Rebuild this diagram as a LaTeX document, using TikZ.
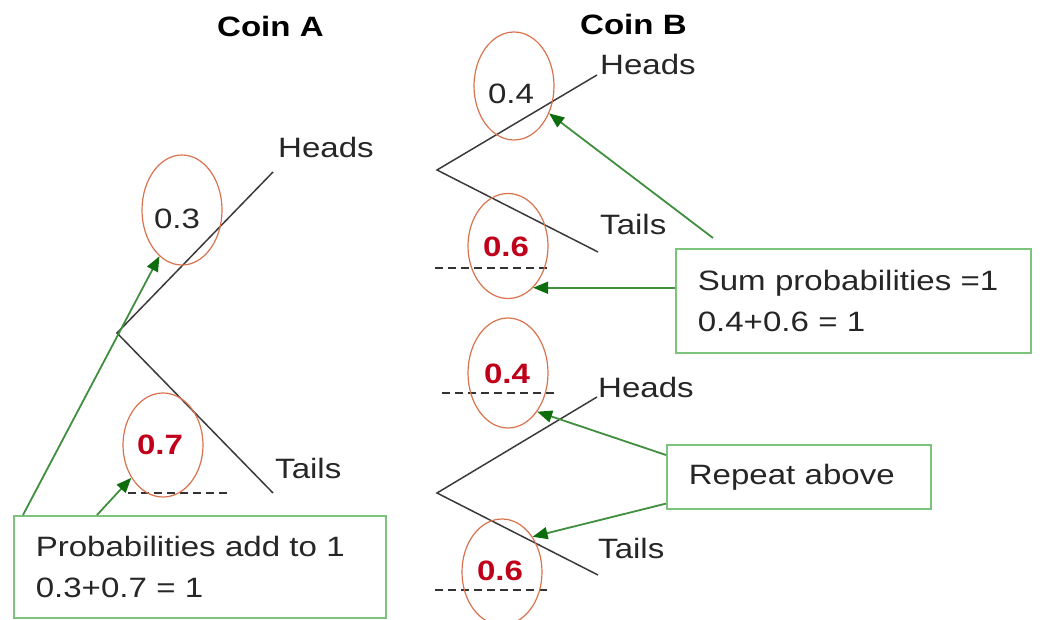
\documentclass[tikz,border=0pt]{standalone}
\usepackage{fontspec}
\setmainfont{Liberation Sans}[FakeStretch=1.18]
\usetikzlibrary{arrows.meta,shapes.geometric}

\definecolor{ringred}{HTML}{D9734F}
\definecolor{numred}{HTML}{C0001A}
\definecolor{boxgreen}{HTML}{7CC47C}
\definecolor{arrowgreen}{HTML}{3F8F3F}
\definecolor{tipgreen}{HTML}{0E6E0E}
\definecolor{branch}{HTML}{3A3A3A}

\begin{document}
\begin{tikzpicture}[x=1pt,y=-1pt,
  txt/.style={font=\fontsize{28}{41}\selectfont, inner sep=0pt, text=black!85},
  title/.style={txt, font=\fontsize{28}{41}\selectfont\bfseries, text=black},
  num/.style={txt},
  rednum/.style={txt, font=\fontsize{28}{41}\selectfont\bfseries, text=numred},
  ring/.style={draw=ringred, line width=1.2pt, ellipse, inner sep=0pt,
    minimum width=80pt, minimum height=#1},
  ring/.default=108pt,
  note/.style={draw=boxgreen, line width=1.6pt, fill=white, anchor=north west,
    inner xsep=22pt, inner ysep=0pt, align=left,
    font=\fontsize{28}{41}\selectfont, text=black!85},
  limb/.style={draw=branch, line width=1.5pt},
  guide/.style={draw=black!80, line width=1.4pt, dash pattern=on 8pt off 5pt},
  pointer/.style={draw=arrowgreen, line width=1.8pt,
    -{Triangle[length=15pt,width=12pt,fill=tipgreen,color=tipgreen]}}]

\useasboundingbox (0,0) rectangle (1042,620);

% titles
\node[title, anchor=base west] (tA) at (217,37) {Coin A};
\node[title, anchor=base west] (tB) at (580,35) {Coin B};

% branch points
\coordinate (rA)  at (117,333);
\coordinate (hA)  at (273,172);
\coordinate (tlA) at (273,493);
\coordinate (rB1) at (437,170);
\coordinate (hB1) at (597,75);
\coordinate (tB1) at (598,252);
\coordinate (rB2) at (437,493);
\coordinate (hB2) at (597,397);
\coordinate (tB2) at (598,575);

% tree branches
\draw[limb] (hA) -- (rA) -- (tlA);
\draw[limb] (hB1) -- (rB1) -- (tB1);
\draw[limb] (hB2) -- (rB2) -- (tB2);

% outcome labels
\node[txt, anchor=base west] (lhA)  at (278,158) {Heads};
\node[txt, anchor=base west] (ltA)  at (275,478) {Tails};
\node[txt, anchor=base west] (lhB1) at (600,75)  {Heads};
\node[txt, anchor=base west] (ltB1) at (600,235) {Tails};
\node[txt, anchor=base west] (lhB2) at (598,397) {Heads};
\node[txt, anchor=base west] (ltB2) at (598,558) {Tails};

% dashed guide lines under the deduced values
\coordinate (d1a) at (128,493); \coordinate (d1b) at (230,493);
\coordinate (d2a) at (435,268); \coordinate (d2b) at (550,268);
\coordinate (d3a) at (442,393); \coordinate (d3b) at (557,393);
\coordinate (d4a) at (435,590); \coordinate (d4b) at (548,590);
\draw[guide] (d1a) -- (d1b);
\draw[guide] (d2a) -- (d2b);
\draw[guide] (d3a) -- (d3b);
\draw[guide] (d4a) -- (d4b);

% rings round the probabilities
\node[ring=110pt] (e03)  at (182,210) {};
\node[ring=104pt] (e07)  at (163,445) {};
\node[ring=108pt] (e04)  at (514,86)  {};
\node[ring=105pt] (e06)  at (508,246) {};
\node[ring=110pt] (e04b) at (508,373) {};
\node[ring=106pt] (e06b) at (502,572) {};

% probabilities
\node[num]    (n03)  at (177,219) {0.3};
\node[rednum] (n07)  at (160,445) {0.7};
\node[num]    (n04)  at (511,94)  {0.4};
\node[rednum] (n06)  at (506,247) {0.6};
\node[rednum] (n04b) at (507,374) {0.4};
\node[rednum] (n06b) at (500,571) {0.6};

% notes
\node[note, minimum width=372pt, minimum height=102pt, text width=328pt] (b1) at (13,515)
  {Probabilities add to 1\\0.3+0.7 = 1};
\node[note, minimum width=355pt, minimum height=104pt, text width=311pt] (b2) at (675,248)
  {Sum probabilities =1\\0.4+0.6 = 1};
\node[note, minimum width=264pt, minimum height=64pt, text width=220pt] (b3) at (666,444)
  {Repeat above};

% pointers from the notes
\draw[pointer] ([xshift=10pt]b1.north west) -- (e03.244);
\draw[pointer] ([xshift=84pt]b1.north west) -- (e07.226);
\draw[pointer] ([xshift=38pt,yshift=10pt]b2.north west) -- (e04.322);
\draw[pointer] (e06.301 -| b2.west) -- (e06.301);
\draw[pointer] ([yshift=-11pt]b3.north west) -- (e04b.307);
\draw[pointer] ([yshift=6pt]b3.south west) -- (e06b.49);

\end{tikzpicture}
\end{document}
